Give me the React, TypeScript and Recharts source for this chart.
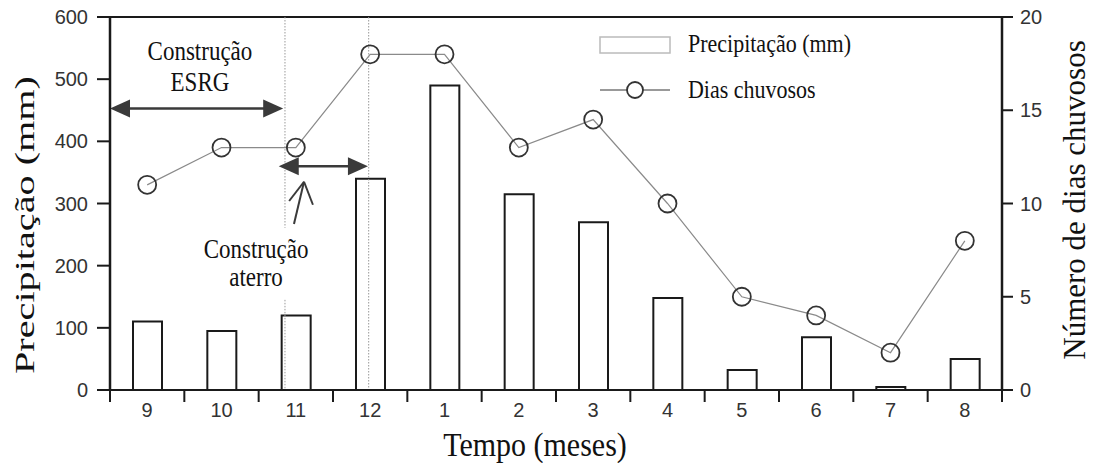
import {
  Bar,
  ComposedChart,
  Legend,
  Line,
  ReferenceDot,
  ReferenceLine,
  XAxis,
  YAxis,
} from "recharts";

const months = ["9", "10", "11", "12", "1", "2", "3", "4", "5", "6", "7", "8"];
const precipitation = [110, 95, 120, 340, 490, 315, 270, 148, 32, 85, 5, 50];
const rainyDays = [11, 13, 13, 18, 18, 13, 14.5, 10, 5, 4, 2, 8];
const precipTicks = [0, 100, 200, 300, 400, 500, 600];
const dayTicks = [0, 5, 10, 15, 20];

// slot = centre of each month on a 0–12 scale
const data = months.map((month, i) => ({
  month,
  slot: i + 0.5,
  precipitation: precipitation[i],
  rainyDays: rainyDays[i],
}));

const W = 1093;
const H = 463;
const LEFT_W = 110;
const RIGHT_W = 91;
const STEP = (W - LEFT_W - RIGHT_W) / months.length;

const SERIF = '"Liberation Serif", "Times New Roman", serif';
const SANS = '"Liberation Sans", Arial, sans-serif';
const INK = "#1a1a1a";
const ARROW = "#3a3a3a";
const TALL = 1.15; // serif captions are set slightly taller than wide

// serif text anchored on its baseline, stretched vertically a little
function Caption({ x, y, size, anchor = "start", lines, gap = 0 }: any) {
  return (
    <g transform={`translate(${x} ${y}) scale(1 ${TALL})`}>
      <text x={0} y={0} textAnchor={anchor} fontFamily={SERIF} fontSize={size} fill="#111">
        {lines.map((t: string, i: number) => (
          <tspan key={t} x={0} dy={i === 0 ? 0 : gap / TALL}>
            {t}
          </tspan>
        ))}
      </text>
    </g>
  );
}

// month label plus a tick mark on the boundary between months
function MonthTick(props: any) {
  const { x, y, payload, index } = props;
  const last = index === months.length - 1;
  return (
    <g>
      <line x1={x - STEP / 2} y1={y} x2={x - STEP / 2} y2={y + 12} stroke={INK} strokeWidth={2} />
      {last && <line x1={x + STEP / 2} y1={y} x2={x + STEP / 2} y2={y + 12} stroke={INK} strokeWidth={2} />}
      <text x={x} y={y + 27} textAnchor="middle" fontFamily={SANS} fontSize={20} fill="#333">
        {payload.value}
      </text>
    </g>
  );
}

function DoubleArrow(props: any) {
  const { x1, y1, x2, y2 } = props;
  const head = 20;
  const half = 9;
  return (
    <g>
      <line x1={x1 + head - 2} y1={y1} x2={x2 - head + 2} y2={y2} stroke={ARROW} strokeWidth={2.5} />
      <polygon points={`${x1},${y1} ${x1 + head},${y1 - half} ${x1 + head},${y1 + half}`} fill={ARROW} />
      <polygon points={`${x2},${y2} ${x2 - head},${y2 - half} ${x2 - head},${y2 + half}`} fill={ARROW} />
    </g>
  );
}

function Note(lines: string[], gap: number) {
  return (props: any) => (
    <Caption x={props.cx} y={props.cy} size={23} anchor="middle" lines={lines} gap={gap} />
  );
}

function LegendBox() {
  return (
    <svg width={320} height={90}>
      <rect x={10} y={11} width={70} height={16} fill="#fff" stroke="#bbb" strokeWidth={1.5} />
      <Caption x={98} y={26} size={22} lines={["Precipitação (mm)"]} />
      <line x1={10} y1={64} x2={80} y2={64} stroke="#777" strokeWidth={1.5} />
      <circle cx={45} cy={64} r={8} fill="#fff" stroke="#333" strokeWidth={1.8} />
      <Caption x={98} y={72} size={22} lines={["Dias chuvosos"]} />
    </svg>
  );
}

const dotted = { stroke: "#999", strokeWidth: 1, strokeDasharray: "1.5 1.5" };

export default function App() {
  return (
    <div style={{ width: W, height: H }}>
      <style>{"body{margin:0}"}</style>
      <ComposedChart
        width={W}
        height={H}
        data={data}
        margin={{ top: 17, right: 0, bottom: 0, left: 0 }}
      >
        <XAxis
          xAxisId="cat"
          dataKey="month"
          height={73}
          interval={0}
          tickLine={false}
          tickSize={0}
          tickMargin={0}
          axisLine={{ stroke: INK, strokeWidth: 2 }}
          tick={<MonthTick />}
          label={{
            content: (p: any) => (
              <Caption
                x={p.viewBox.x + p.viewBox.width / 2 - 21}
                y={p.viewBox.y + 66}
                size={30}
                anchor="middle"
                lines={["Tempo (meses)"]}
              />
            ),
          }}
        />
        {/* plain 0–12 scale across the plot, used to place the annotations */}
        <XAxis
          xAxisId="pos"
          dataKey="slot"
          type="number"
          domain={[0, 12]}
          ticks={[0, 3, 6, 9, 12]}
          allowDataOverflow
          hide
        />
        <YAxis
          yAxisId="left"
          width={LEFT_W}
          domain={[0, 600]}
          ticks={precipTicks}
          interval={0}
          tickSize={13}
          tickMargin={9}
          axisLine={{ stroke: INK, strokeWidth: 2.5 }}
          tickLine={{ stroke: INK, strokeWidth: 2 }}
          tick={{ fontFamily: SANS, fontSize: 20, fill: "#333" }}
          label={{
            content: () => {
              const cx = 34;
              const cy = 225;
              return (
                <text
                  x={cx}
                  y={cy}
                  transform={`rotate(-90 ${cx} ${cy})`}
                  textAnchor="middle"
                  fontFamily={SERIF}
                  fontSize={28}
                  fill="#111"
                  textLength={298}
                  lengthAdjust="spacingAndGlyphs"
                >
                  Precipitação (mm)
                </text>
              );
            },
          }}
        />
        <YAxis
          yAxisId="right"
          orientation="right"
          width={RIGHT_W}
          domain={[0, 20]}
          ticks={dayTicks}
          interval={0}
          tickSize={11}
          tickMargin={7}
          axisLine={{ stroke: INK, strokeWidth: 2.5 }}
          tickLine={{ stroke: INK, strokeWidth: 2 }}
          tick={{ fontFamily: SANS, fontSize: 20, fill: "#333" }}
          label={{
            content: (p: any) => {
              const cx = p.viewBox.x + 83;
              const cy = 200;
              return (
                <text
                  x={cx}
                  y={cy}
                  transform={`rotate(-90 ${cx} ${cy})`}
                  textAnchor="middle"
                  fontFamily={SERIF}
                  fontSize={31}
                  fill="#111"
                >
                  Número de dias chuvosos
                </text>
              );
            },
          }}
        />

        {/* frame top */}
        <ReferenceLine xAxisId="pos" yAxisId="left" y={600} stroke={INK} strokeWidth={2} />

        {/* construction period markers */}
        <ReferenceLine xAxisId="pos" yAxisId="left" segment={[{ x: 2.354, y: 600 }, { x: 2.354, y: 261 }]} {...dotted} />
        <ReferenceLine xAxisId="pos" yAxisId="left" segment={[{ x: 2.354, y: 145 }, { x: 2.354, y: 0 }]} {...dotted} />
        <ReferenceLine xAxisId="pos" yAxisId="left" segment={[{ x: 3.48, y: 600 }, { x: 3.48, y: 0 }]} {...dotted} />

        <Bar
          xAxisId="cat"
          yAxisId="left"
          dataKey="precipitation"
          barSize={29}
          fill="#fff"
          stroke={INK}
          strokeWidth={2}
          isAnimationActive={false}
        />
        <Line
          xAxisId="cat"
          yAxisId="right"
          type="linear"
          dataKey="rainyDays"
          stroke="#8a8a8a"
          strokeWidth={1.2}
          dot={{ r: 9, fill: "none", stroke: "#333", strokeWidth: 1.8 }}
          activeDot={false}
          isAnimationActive={false}
        />

        <ReferenceLine
          xAxisId="pos"
          yAxisId="left"
          segment={[{ x: 0, y: 453 }, { x: 2.33, y: 453 }]}
          shape={<DoubleArrow />}
        />
        <ReferenceLine
          xAxisId="pos"
          yAxisId="left"
          segment={[{ x: 2.27, y: 360 }, { x: 3.47, y: 360 }]}
          shape={<DoubleArrow />}
        />
        <ReferenceLine xAxisId="pos" yAxisId="left" segment={[{ x: 2.475, y: 267 }, { x: 2.61, y: 335 }]} stroke={ARROW} strokeWidth={2} />
        <ReferenceLine xAxisId="pos" yAxisId="left" segment={[{ x: 2.41, y: 304 }, { x: 2.61, y: 335 }]} stroke={ARROW} strokeWidth={2} />
        <ReferenceLine xAxisId="pos" yAxisId="left" segment={[{ x: 2.73, y: 298 }, { x: 2.61, y: 335 }]} stroke={ARROW} strokeWidth={2} />

        <ReferenceDot xAxisId="pos" yAxisId="left" x={1.21} y={531} shape={Note(["Construção", "ESRG"], 31)} />
        <ReferenceDot xAxisId="pos" yAxisId="left" x={1.965} y={212} shape={Note(["Construção", "aterro"], 28)} />

        <Legend
          layout="horizontal"
          verticalAlign="middle"
          align="center"
          content={() => <LegendBox />}
          wrapperStyle={{ top: 26, left: 590, width: 320, height: 90 }}
        />
      </ComposedChart>
    </div>
  );
}
